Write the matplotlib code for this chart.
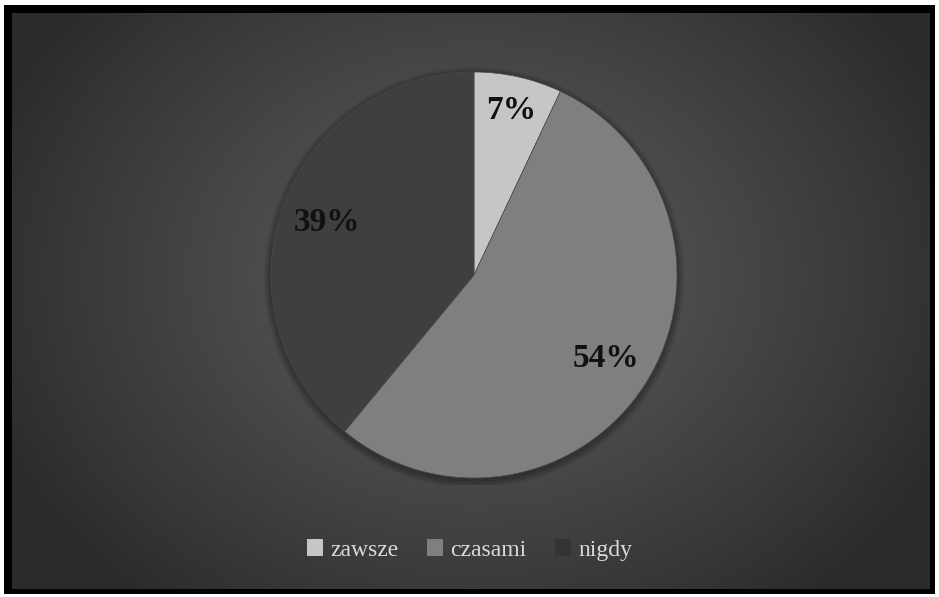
import numpy as np
import matplotlib.pyplot as plt
from matplotlib.patches import Rectangle, Circle

# Dane: odpowiedzi ankietowanych
kategorie = ['zawsze', 'czasami', 'nigdy']
udzialy = [7, 54, 39]
kolory = ['#c6c6c6', '#7f7f7f', '#3f3f3f']
# odległość etykiety od środka (ułamek promienia)
odl_etykiet = [0.83, 0.77, 0.77]

W, H = 939, 597
fig = plt.figure(figsize=(W / 100, H / 100), dpi=100)
fig.patch.set_facecolor('white')

# Tło: czarna ramka i promieniste wypełnienie
bg = fig.add_axes([0, 0, 1, 1])
bg.axis('off')
bg.add_patch(Rectangle((4, 5), 931, 589, facecolor='black', edgecolor='none', zorder=1))
x0, x1, y0, y1 = 12, 930, 13, 589
yy, xx = np.mgrid[y0:y1, x0:x1]
cx, cy = 474, 275
r = np.sqrt(((xx - cx) / 520) ** 2 + ((yy - cy) / 420) ** 2)
r = np.clip(r, 0, 1)
val = 0.36 - 0.19 * r ** 1.2
img = np.dstack([val, val, val])
bg.imshow(img, extent=[x0, x1, y1, y0], aspect='auto', interpolation='bilinear', zorder=2)
bg.set_xlim(0, W)
bg.set_ylim(H, 0)

# Wykres kołowy
ax = fig.add_axes([(474 - 210) / W, 1 - (275 + 210) / H, 420 / W, 420 / H])
# delikatny cień pod kołem
for k in range(6):
    ax.add_patch(Circle((0, -0.012), 1.0 + 0.006 * (k + 1), facecolor='black',
                        edgecolor='none', alpha=0.05, zorder=0))
wedges, _ = ax.pie(udzialy, colors=kolory, startangle=90, counterclock=False,
                   radius=1.0, wedgeprops=dict(edgecolor='#4a4a4a', linewidth=0.5))
ax.set_xlim(-210 / 203, 210 / 203)
ax.set_ylim(-210 / 203, 210 / 203)
ax.set_aspect('equal')
ax.axis('off')

suma = sum(udzialy)
kat = 90.0
for w, u, d in zip(wedges, udzialy, odl_etykiet):
    srodek = kat - u / suma * 360 / 2
    kat -= u / suma * 360
    a = np.deg2rad(srodek)
    ax.text(d * np.cos(a), d * np.sin(a), f'{u}%', ha='center', va='center',
            fontsize=24, fontweight='bold', family='Liberation Serif', color='#111111')

# Legenda
leg = fig.legend(wedges, kategorie, loc='center', bbox_to_anchor=(0.5, 1 - 550 / H),
                 ncol=3, frameon=False, handlelength=0.7, handleheight=0.7,
                 handletextpad=0.3, columnspacing=1.2,
                 prop=dict(family='Liberation Serif', size=17))
for t in leg.get_texts():
    t.set_color('#d9d9d9')
for h, c in zip(leg.legend_handles, ['#c6c6c6', '#7f7f7f', '#333333']):
    h.set_edgecolor('none')
    h.set_facecolor(c)

fig.savefig('out.png', dpi=100)
